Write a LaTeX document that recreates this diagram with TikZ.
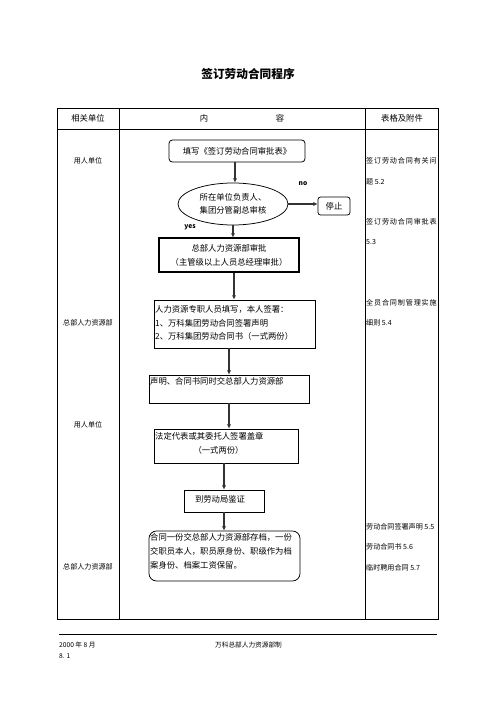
\documentclass[tikz,border=0pt]{standalone}
\usepackage{fontspec}
\setmainfont{Noto Sans CJK SC}
\usetikzlibrary{arrows.meta,shapes.geometric}
\begin{document}
\begin{tikzpicture}[x=1.2pt,y=-1.2pt,
  box/.style={draw, line width=0.9pt, inner sep=0pt, font=\fontsize{10}{16.8}\selectfont},
  rbox/.style={box, rounded corners=4pt},
  txt/.style={inner sep=0pt, font=\fontsize{10}{16.8}\selectfont},
  arr/.style={draw=black!80, line width=1.25pt, -{Latex[length=5pt,width=5pt]}},
  unit/.style={inner sep=0pt, font=\fontsize{8.5}{10}\selectfont},
  head/.style={inner sep=0pt, font=\fontsize{10}{12}\selectfont},
  ref/.style={inner sep=0pt, anchor=west, font=\fontsize{8.5}{10}\selectfont\addfontfeature{LetterSpace=12}},
  refb/.style={inner sep=0pt, anchor=west, font=\fontsize{8.5}{10}\selectfont},
  yn/.style={inner sep=0pt, font=\fontsize{8}{10}\selectfont\bfseries},
  foot/.style={inner sep=0pt, anchor=west, font=\fontsize{8}{10}\selectfont}
]
\useasboundingbox (0,0) rectangle (496,702);

% title
\node[inner sep=0pt, font=\fontsize{14}{16}\selectfont\bfseries] (title) at (248,74) {签订劳动合同程序};

% table
\draw[line width=1.2pt] (57.5,108) rectangle (438.5,619);
\draw[line width=2pt] (57.5,108) -- (57.5,619);
\draw[line width=0.9pt] (57.5,129) -- (438.5,129);
\draw[line width=0.9pt] (119,108) -- (119,619);
\draw[line width=0.9pt] (365,108) -- (365,619);

% header
\node[head] (h1) at (88,118.5) {相关单位};
\node[head] (h2) at (204,118.5) {内};
\node[head] (h3) at (280,118.5) {容};
\node[head] (h4) at (402,118.5) {表格及附件};

% unit column
\node[unit] (u1) at (88,161) {用人单位};
\node[unit] (u2) at (88,323) {总部人力资源部};
\node[unit] (u3) at (88,425) {用人单位};
\node[unit] (u4) at (88,567) {总部人力资源部};

% reference column
\node[ref] (r1) at (366,161) {签订劳动合同有关问};
\node[refb] (r2) at (366,182) {题 5.2};
\node[ref] (r3) at (366,222) {签订劳动合同审批表};
\node[refb] (r4) at (366,242) {5.3};
\node[ref] (r5) at (366,303) {全员合同制管理实施};
\node[refb] (r6) at (366,323) {细则 5.4};
\node[refb] (r7) at (366,527) {劳动合同签署声明 5.5};
\node[refb] (r8) at (366,547) {劳动合同书 5.6};
\node[refb] (r9) at (366,568) {临时聘用合同 5.7};

% flow
\node[rbox, minimum width=163.2pt, minimum height=26.4pt] (n1) at (237,151) {填写《签订劳动合同审批表》};
\node[ellipse, draw, line width=0.9pt, inner sep=0pt, minimum width=132pt, minimum height=50.4pt, align=center, font=\fontsize{10}{15.6}\selectfont] (n2) at (233,204) {所在单位负责人、\\集团分管副总审核};
\node[rbox, rounded corners=3pt, minimum width=38.4pt, minimum height=21.6pt] (stop) at (334,206) {停止};
\node[box, line width=1.3pt, minimum width=168pt, minimum height=40.8pt, align=center] (n4) at (229,255) {总部人力资源部审批\\（主管级以上人员总经理审批）};

\node[box, line width=1.1pt, minimum width=193.2pt, minimum height=57.6pt] (n5) at (234.5,324) {};
\node[txt, anchor=north west, align=left, font=\fontsize{10}{16.2}\selectfont] (t5) at (155,305.5) {人力资源专职人员填写，本人签署：\\1、万科集团劳动合同签署声明\\2、万科集团劳动合同书（一式两份）};

\node[box, minimum width=192pt, minimum height=33.6pt] (n6) at (229,389) {};
\node[txt, anchor=north west] (t6) at (150,377.5) {声明、合同书同时交总部人力资源部};

\node[box, minimum width=172.8pt, minimum height=40.8pt] (n7) at (226,446) {};
\node[txt, anchor=north west, align=left] (t7) at (155,432.5) {法定代表或其委托人签署盖章\\\hspace*{4.6em}（一式两份）};

\node[box, minimum width=96pt, minimum height=26.4pt] (n8) at (224,501) {};
\node[txt] (t8) at (220,499.5) {到劳动局鉴证};

\node[rbox, rounded corners=9pt, minimum width=181.2pt, minimum height=60pt] (n9) at (224.5,556) {};
\node[txt, anchor=north west, align=left] (t9) at (150,533.5) {合同一份交总部人力资源部存档，一份\\交职员本人，职员原身份、职级作为档\\案身份、档案工资保留。};

\node[yn] (no) at (303,184) {no};
\node[yn] (yes) at (190,227) {yes};

\draw[arr] (n1.south -| 235,0) -- (235,0 |- n2.north);
\draw[arr] (n2.east) -- (n2.east -| stop.west);
\draw[arr] (n2.south) -- (n2.south |- n4.north);
\draw[arr] (n4.south -| 234,0) -- (234,0 |- n5.north);
\draw[arr] (n5.south -| 229,0) -- (229,0 |- n6.north);
\draw[arr] (n6.south -| 229,0) -- (229,0 |- n7.north);
\draw[arr] (n7.south -| 224,0) -- (224,0 |- n8.north);
\draw[arr] (n8.south -| 224,0) -- (224,0 |- n9.north);

% footer
\draw[line width=1pt] (59,634) -- (437,634);
\node[foot] (f1) at (59,645) {2000 年 8 月};
\node[foot] (f2) at (59,656) {8. 1};
\node[foot] (f3) at (215,645) {万科总部人力资源部制};
\end{tikzpicture}
\end{document}
